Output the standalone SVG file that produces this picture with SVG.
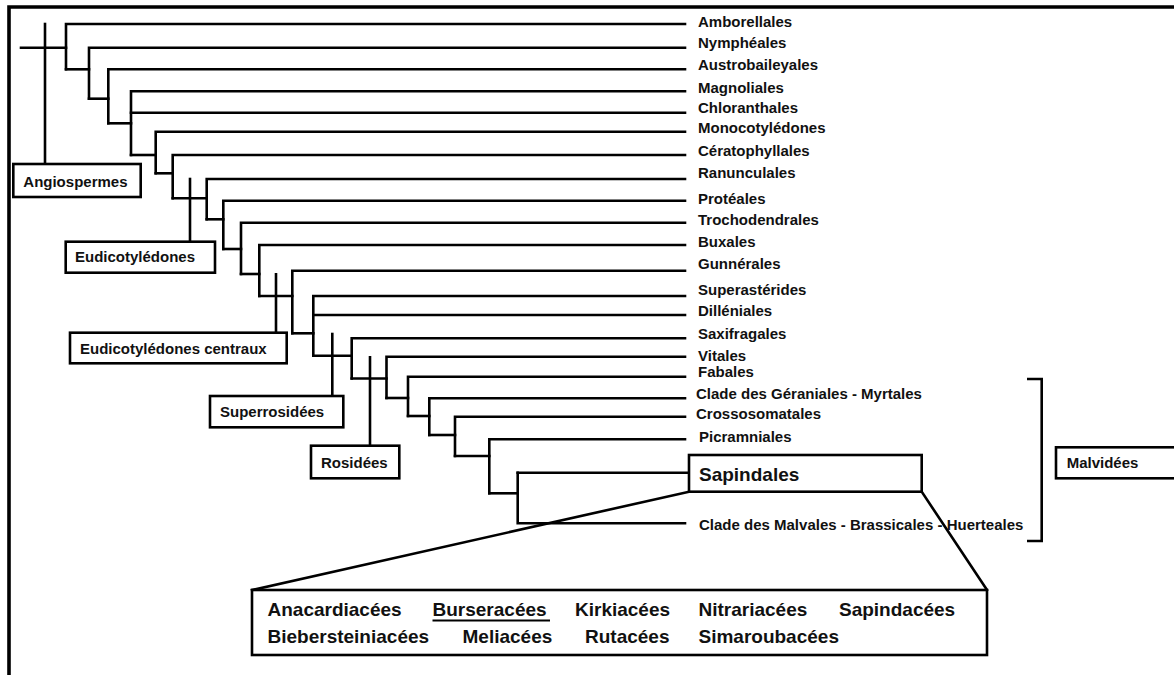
<svg xmlns="http://www.w3.org/2000/svg" width="1174" height="675" viewBox="0 0 1174 675">
<style>
.ln{fill:none;stroke:#000;stroke-width:2.6;stroke-linecap:square;stroke-linejoin:miter}
.fr{fill:none;stroke:#000;stroke-width:3.6}
.bx{fill:#fff;stroke:#000;stroke-width:2.6}
.t{font-family:"Liberation Sans",Arial,sans-serif;font-weight:bold;font-size:15px;fill:#111}
.b{font-family:"Liberation Sans",Arial,sans-serif;font-weight:bold;font-size:19px;fill:#111}
</style>
<rect width="1174" height="675" fill="#fff"/>
<g id="frame">
<path class="fr" d="M9 675 V7 H1174"/>
</g>
<g id="connectors">
<path class="ln" d="M21 47.7 H66"/>
<path class="ln" d="M45 24 V164"/>
<path class="ln" d="M66 69.3 V24 H685"/>
<path class="ln" d="M66 69.3 H89"/>
<path class="ln" d="M89 98.7 V47.7 H685"/>
<path class="ln" d="M89 98.7 H108.3"/>
<path class="ln" d="M108.3 123.3 V69.3 H685"/>
<path class="ln" d="M108.3 123.3 H131"/>
<path class="ln" d="M131 155 V91.3 H685"/>
<path class="ln" d="M131 112.7 H685"/>
<path class="ln" d="M131 155 H155.7"/>
<path class="ln" d="M155.7 173.3 V131.7 H685"/>
<path class="ln" d="M155.7 173.3 H172.7"/>
<path class="ln" d="M172.7 198.3 V155 H685"/>
<path class="ln" d="M172.7 198.3 H206.7"/>
<path class="ln" d="M190 179 V241.7"/>
<path class="ln" d="M206.7 219.3 V179 H685"/>
<path class="ln" d="M206.7 219.3 H223.3"/>
<path class="ln" d="M223.3 249 V200.7 H685"/>
<path class="ln" d="M223.3 249 H241"/>
<path class="ln" d="M241 274 V222.7 H685"/>
<path class="ln" d="M241 274 H259.3"/>
<path class="ln" d="M259.3 296 V245 H685"/>
<path class="ln" d="M259.3 296 H292.3"/>
<path class="ln" d="M276 274.3 V332.7"/>
<path class="ln" d="M292.3 333.3 V270.7 H685"/>
<path class="ln" d="M292.3 333.3 H313.3"/>
<path class="ln" d="M313.3 355.7 V296 H685"/>
<path class="ln" d="M313.3 315 H685"/>
<path class="ln" d="M313.3 355.7 H351.7"/>
<path class="ln" d="M332.3 334 V396"/>
<path class="ln" d="M351.7 378.5 V338.3 H685"/>
<path class="ln" d="M351.7 378.5 H386.5"/>
<path class="ln" d="M370 357.3 V445.7"/>
<path class="ln" d="M386.5 398 V356.7 H685"/>
<path class="ln" d="M386.5 398 H408"/>
<path class="ln" d="M408 416 V376.7 H685"/>
<path class="ln" d="M408 416 H429.3"/>
<path class="ln" d="M429.3 435 V398.3 H685"/>
<path class="ln" d="M429.3 435 H455"/>
<path class="ln" d="M455 456 V416.7 H685"/>
<path class="ln" d="M455 456 H489.3"/>
<path class="ln" d="M489.3 493.3 V439.3 H685"/>
<path class="ln" d="M489.3 493.3 H517.7"/>
<path class="ln" d="M517.7 472.7 V523.3 H685"/>
<path class="ln" d="M517.7 472.7 H689"/>
<path class="ln" d="M689 491.7 L252 590"/>
<path class="ln" d="M921.7 491.7 L987 590"/>
<path class="ln" d="M1028.3 379 H1041.7 V541 H1028.3"/>
</g>
<g id="leaf-labels">
<text class="t" x="698" y="27">Amborellales</text>
<text class="t" x="698" y="47.5">Nymphéales</text>
<text class="t" x="698" y="70">Austrobaileyales</text>
<text class="t" x="698" y="92.7">Magnoliales</text>
<text class="t" x="698" y="112.7">Chloranthales</text>
<text class="t" x="698" y="133.3">Monocotylédones</text>
<text class="t" x="698" y="156">Cératophyllales</text>
<text class="t" x="698" y="178.3">Ranunculales</text>
<text class="t" x="698" y="204">Protéales</text>
<text class="t" x="698" y="225">Trochodendrales</text>
<text class="t" x="698" y="247.3">Buxales</text>
<text class="t" x="698" y="269.3">Gunnérales</text>
<text class="t" x="698" y="294.5">Superastérides</text>
<text class="t" x="698" y="316">Dilléniales</text>
<text class="t" x="698" y="338.5">Saxifragales</text>
<text class="t" x="698" y="360.5">Vitales</text>
<text class="t" x="698" y="377">Fabales</text>
<text class="t" x="696" y="399.3">Clade des Géraniales - Myrtales</text>
<text class="t" x="696" y="418.7">Crossosomatales</text>
<text class="t" x="699" y="441.7">Picramniales</text>
<text class="t" x="699" y="530">Clade des Malvales - Brassicales - Huerteales</text>
</g>
<g id="angiospermes">
<rect class="bx" x="13.3" y="164" width="127.4" height="33"/>
<text class="t" x="23.3" y="186.7">Angiospermes</text>
</g>
<g id="eudicotyledones">
<rect class="bx" x="65.7" y="241.7" width="149.3" height="31"/>
<text class="t" x="75" y="262.3">Eudicotylédones</text>
</g>
<g id="eudicotyledones-centraux">
<rect class="bx" x="70" y="332.7" width="216.7" height="30.6"/>
<text class="t" x="80" y="354">Eudicotylédones centraux</text>
</g>
<g id="superrosidees">
<rect class="bx" x="210" y="396" width="133.3" height="31.3"/>
<text class="t" x="220" y="417.3">Superrosidées</text>
</g>
<g id="rosidees">
<rect class="bx" x="311" y="445.7" width="88.3" height="32.6"/>
<text class="t" x="321" y="468.3">Rosidées</text>
</g>
<g id="sapindales">
<rect class="bx" x="689" y="455" width="232.7" height="36.7"/>
<text class="b" x="699" y="480.7">Sapindales</text>
</g>
<g id="malvidees">
<rect class="bx" x="1056" y="447.3" width="130" height="31"/>
<text class="t" x="1066.7" y="468.3">Malvidées</text>
</g>
<g id="familles">
<rect class="bx" x="252" y="590" width="735" height="65"/>
<text class="b" x="267.5" y="616">Anacardiacées</text>
<text class="b" x="432.5" y="616">Burseracées</text>
<path d="M432.5 620.5 H550" stroke="#000" stroke-width="1.8"/>
<text class="b" x="575" y="616">Kirkiacées</text>
<text class="b" x="698.5" y="616">Nitrariacées</text>
<text class="b" x="839" y="616">Sapindacées</text>
<text class="b" x="267.5" y="643">Biebersteiniacées</text>
<text class="b" x="462.5" y="643">Meliacées</text>
<text class="b" x="585" y="643">Rutacées</text>
<text class="b" x="698.5" y="643">Simaroubacées</text>
</g>
</svg>
